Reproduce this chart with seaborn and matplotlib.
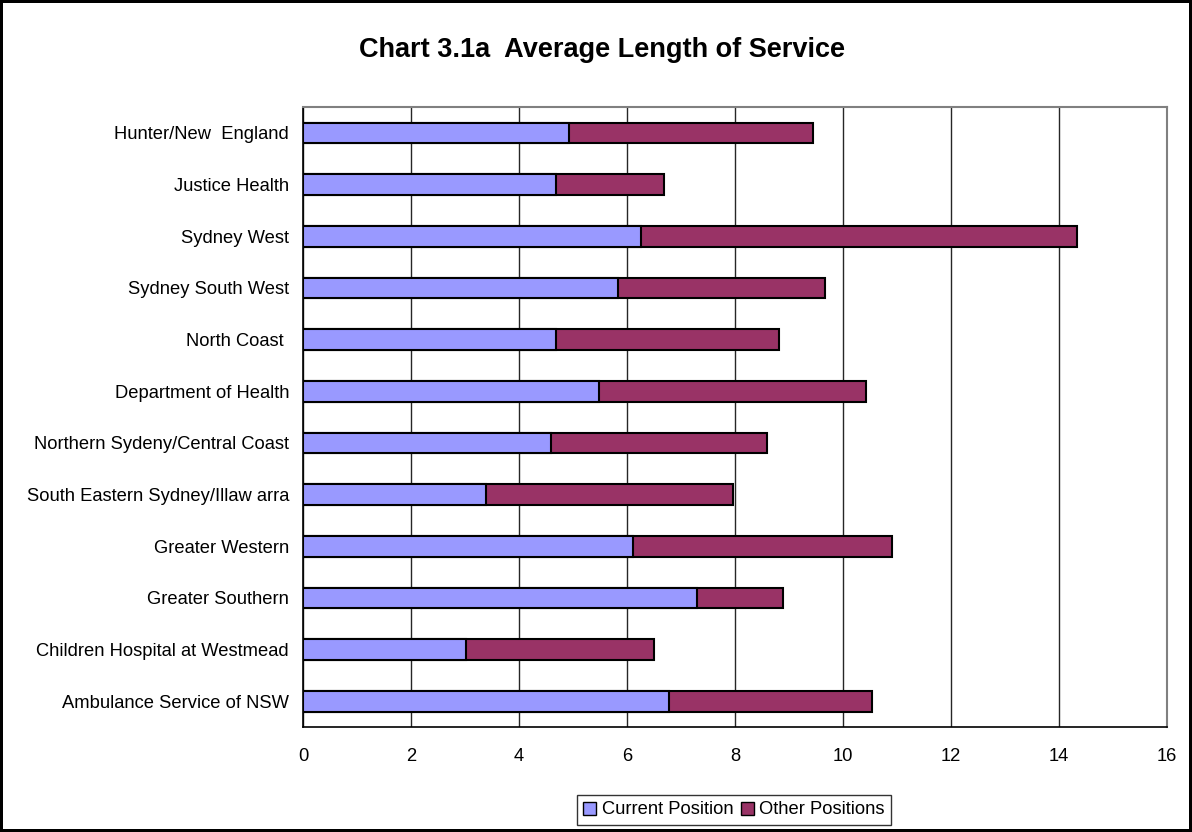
import matplotlib
matplotlib.use("Agg")
import matplotlib.pyplot as plt
import seaborn as sns
import pandas as pd
from matplotlib.patches import Patch

# values (years)
areas = [
    "Hunter/New  England",
    "Justice Health",
    "Sydney West",
    "Sydney South West",
    "North Coast ",
    "Department of Health",
    "Northern Sydeny/Central Coast",
    "South Eastern Sydney/Illaw arra",
    "Greater Western",
    "Greater Southern",
    "Children Hospital at Westmead",
    "Ambulance Service of NSW",
]
current_position = [4.92, 4.69, 6.25, 5.83, 4.69, 5.48, 4.60, 3.39, 6.11, 7.29, 3.01, 6.78]
other_positions = [4.53, 2.00, 8.09, 3.84, 4.12, 4.95, 4.00, 4.57, 4.80, 1.59, 3.49, 3.76]

current_color = "#9999FF"
other_color = "#993366"

df = pd.DataFrame({"area": areas, "current": current_position, "other": other_positions})
df["total"] = df["current"] + df["other"]

sns.set_style("white")
plt.rcParams["font.family"] = ["Liberation Sans", "DejaVu Sans"]
plt.rcParams["text.color"] = "black"
plt.rcParams["xtick.color"] = "black"
plt.rcParams["ytick.color"] = "black"

fig = plt.figure(figsize=(11.92, 8.32), dpi=100)
fig.patch.set_edgecolor("black")
fig.patch.set_linewidth(3)
ax = fig.add_axes([303 / 1192, 1 - 727 / 832, (1167 - 303) / 1192, (727 - 107) / 832])

# stacked bars: draw total first, then current on top
sns.barplot(data=df, x="total", y="area", color=other_color, width=0.4,
            edgecolor="black", linewidth=1.5, saturation=1, ax=ax, zorder=3)
sns.barplot(data=df, x="current", y="area", color=current_color, width=0.4,
            edgecolor="black", linewidth=1.5, saturation=1, ax=ax, zorder=4)

ax.set_xlim(0, 16)
ax.set_ylim(len(areas) - 0.5, -0.5)
ax.set_xticks(range(0, 17, 2))
ax.set_xlabel("")
ax.set_ylabel("")
ax.grid(axis="x", color="#262626", linewidth=1.0, zorder=0)
ax.set_axisbelow(True)

# category ticks at boundaries, labels at centres (Excel style)
ax.set_yticks([i for i in range(len(areas))])
ax.set_yticklabels(areas)
ax.tick_params(axis="y", which="major", length=0, pad=10, labelsize=13.2, labelcolor="black")
ax.set_yticks([i - 0.5 for i in range(len(areas) + 1)], minor=True)
ax.tick_params(axis="y", which="minor", length=5, width=1, color="black", direction="out")
ax.tick_params(axis="x", length=8, width=1, direction="inout", pad=11, labelsize=13.2,
               labelcolor="black")

for side in ["top", "right"]:
    ax.spines[side].set_visible(True)
    ax.spines[side].set_color("#808080")
    ax.spines[side].set_linewidth(1.5)
ax.spines["left"].set_color("black")
ax.spines["bottom"].set_color("black")
ax.spines["left"].set_linewidth(1.2)
ax.spines["bottom"].set_linewidth(1.2)

fig.text(602 / 1192, 1 - 50 / 832, "Chart 3.1a  Average Length of Service",
         ha="center", va="center", fontsize=19.5, fontweight="bold", color="black")

handles = [Patch(facecolor=current_color, edgecolor="black", linewidth=1),
           Patch(facecolor=other_color, edgecolor="black", linewidth=1)]
leg = fig.legend(handles, ["Current Position", "Other Positions"], ncol=2,
                 loc="center", bbox_to_anchor=(734 / 1192, 1 - 810 / 832),
                 frameon=True, fancybox=False, edgecolor="black", fontsize=13.2,
                 handlelength=0.7, handleheight=0.7, handletextpad=0.3,
                 columnspacing=0.4, borderpad=0.35)
leg.get_frame().set_linewidth(1)
for t in leg.get_texts():
    t.set_color("black")

fig.savefig("out.png", dpi=100)
